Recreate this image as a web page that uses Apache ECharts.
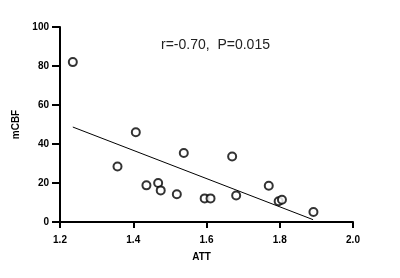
<!DOCTYPE html>
<html>
<head>
<meta charset="utf-8">
<script src="https://cdn.jsdelivr.net/npm/echarts@6/dist/echarts.min.js"></script>
<style>
  html, body { margin: 0; padding: 0; background: #fff; }
  #chart { width: 400px; height: 278px; }
</style>
</head>
<body>
<div id="chart"></div>
<script>
// ATT vs mCBF points
var attValues = [1.235, 1.357, 1.407, 1.436, 1.468, 1.475, 1.519, 1.538, 1.595, 1.611, 1.670, 1.681, 1.770, 1.797, 1.806, 1.892];
var cbfValues = [82, 28.5, 46, 18.8, 20, 16.2, 14.2, 35.4, 12.1, 12.1, 33.6, 13.6, 18.6, 10.6, 11.4, 5.1];
// fitted line, end points
var fitX = [1.235, 1.891];
var fitY = [48.7, 1.2];
var statsText = "r=-0.70,  P=0.015";

var points = attValues.map(function (x, i) { return [x, cbfValues[i]]; });
var fitLine = fitX.map(function (x, i) { return [x, fitY[i]]; });

var myChart = echarts.init(document.getElementById("chart"));
var axisFont = { fontFamily: "Liberation Sans", fontWeight: "bold", fontSize: 10, color: "#000" };

var option = {
  animation: false,
  title: {
    text: statsText,
    left: 156,
    top: 33,
    textStyle: { fontFamily: "Liberation Sans", fontWeight: "normal", fontSize: 14, color: "#222" }
  },
  grid: { left: 60, right: 47, top: 27, bottom: 56 },
  xAxis: {
    type: "value",
    min: 1.2,
    max: 2.0,
    interval: 0.2,
    name: "ATT",
    nameLocation: "middle",
    nameGap: 30,
    nameTextStyle: Object.assign({ padding: [0, 10, 0, 0] }, axisFont),
    axisLine: { lineStyle: { color: "#000", width: 2 } },
    axisTick: { length: 6, lineStyle: { color: "#000", width: 2 } },
    axisLabel: Object.assign({ margin: 13, formatter: function (v) { return v.toFixed(1); } }, axisFont),
    splitLine: { show: false }
  },
  yAxis: {
    type: "value",
    min: 0,
    max: 100,
    interval: 20,
    name: "mCBF",
    nameLocation: "middle",
    nameGap: 34,
    nameTextStyle: axisFont,
    axisLine: { show: true, lineStyle: { color: "#000", width: 2 } },
    axisTick: { show: true, length: 8, lineStyle: { color: "#000", width: 2 } },
    axisLabel: Object.assign({ margin: 11 }, axisFont),
    splitLine: { show: false }
  },
  series: [
    {
      type: "line",
      data: fitLine,
      showSymbol: false,
      lineStyle: { color: "#000", width: 1 },
      z: 1
    },
    {
      type: "scatter",
      data: points,
      symbol: "circle",
      symbolSize: 8,
      itemStyle: { color: "#fff", borderColor: "#000", borderWidth: 2 },
      z: 2
    }
  ]
};
myChart.setOption(option);
</script>
</body>
</html>
